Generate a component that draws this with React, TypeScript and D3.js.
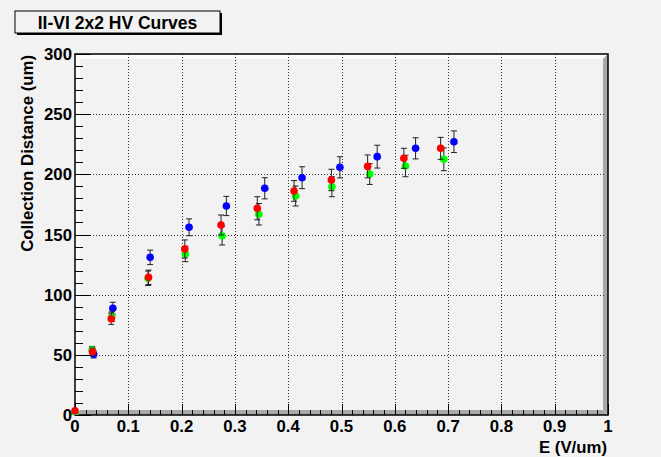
import React from "react";
import * as d3 from "d3";

const blueX = [0, 0.035, 0.071, 0.141, 0.214, 0.284, 0.356, 0.426, 0.497, 0.567, 0.639, 0.711];
const blueY = [0, 50.4, 88.7, 131, 156, 173.7, 188.4, 197.2, 205.8, 214.7, 221.6, 227.1];
const blueErr = [0, 3, 5, 6, 7, 8, 8.8, 9.1, 8.8, 9.5, 8.8, 9];

const greenX = [0, 0.032, 0.069, 0.137, 0.207, 0.276, 0.345, 0.414, 0.482, 0.553, 0.62, 0.692];
const greenY = [0, 54, 81.7, 113.6, 133.8, 149, 166.8, 182, 189.7, 200.2, 206.9, 212.5];
const greenErr = [0, 3, 4, 6, 6.4, 7.7, 8.9, 8.3, 8.3, 8.6, 8.9, 9.5];

const redX = [0, 0.033, 0.068, 0.138, 0.206, 0.274, 0.342, 0.411, 0.481, 0.549, 0.617, 0.686];
const redY = [3.5, 52.6, 80, 114.4, 138, 157.9, 171.8, 186.2, 195.3, 206.6, 213.3, 221.6];
const redErr = [0, 3, 4.7, 6, 7.5, 8.3, 9.6, 8.6, 8.9, 9.5, 8.3, 9.1];

const xTicks = [0, 0.1, 0.2, 0.3, 0.4, 0.5, 0.6, 0.7, 0.8, 0.9, 1];
const xTickLabels = ["0", "0.1", "0.2", "0.3", "0.4", "0.5", "0.6", "0.7", "0.8", "0.9", "1"];
const yTicks = [0, 50, 100, 150, 200, 250, 300];
const yTickLabels = ["0", "50", "100", "150", "200", "250", "300"];

const title = "II-VI 2x2 HV Curves";
const xTitle = "E (V/um)";
const yTitle = "Collection Distance (um)";

const series = [
  { xs: blueX, ys: blueY, es: blueErr, color: "#0000ff" },
  { xs: greenX, ys: greenY, es: greenErr, color: "#00ff00" },
  { xs: redX, ys: redY, es: redErr, color: "#ff0000" },
];

const W = 661;
const H = 457;
const L = 75;
const R = 608;
const T = 54;
const B = 415;
const BEV = 5;
const FONT = "'Liberation Sans', Arial, Helvetica, sans-serif";

export default function App() {
  const x = d3.scaleLinear().domain([0, 1]).range([L, R]);
  const y = d3.scaleLinear().domain([0, 300]).range([B, T]);
  const xMinor = d3.range(0, 1.0001, 0.02);
  const yMinor = d3.range(0, 300.01, 10);

  return (
    <svg
      width={W}
      height={H}
      style={{ position: "absolute", left: 0, top: 0, background: "#f2f2f2" }}
    >
      <defs>
        <clipPath id="frameClip">
          <rect x={0} y={0} width={W} height={B} />
        </clipPath>
      </defs>
      <rect x={0} y={0} width={W} height={H} fill="#f2f2f2" />

      {/* title box */}
      <rect x={17} y={13} width={205} height={22} fill="#000" />
      <rect x={15} y={11} width={205} height={22} fill="#f2f2f2" stroke="#000" strokeWidth={1} />
      <text x={117.5} y={29.3} textAnchor="middle" fontFamily={FONT} fontWeight="bold" fontSize={17.5} fill="#000">
        {title}
      </text>

      {/* frame */}
      <rect x={L} y={T} width={R - L} height={B - T} fill="#f2f2f2" />
      <polygon points={`${L},${T} ${R},${T} ${R - BEV},${T + BEV} ${L + BEV},${T + BEV}`} fill="#fcfcfc" />
      <polygon points={`${L},${T} ${L + BEV},${T + BEV} ${L + BEV},${B - BEV} ${L},${B}`} fill="#fcfcfc" />
      <polygon points={`${R},${T} ${R},${B} ${R - BEV},${B - BEV} ${R - BEV},${T + BEV}`} fill="#a8a8a8" />
      <polygon points={`${L},${B} ${R},${B} ${R - BEV},${B - BEV} ${L + BEV},${B - BEV}`} fill="#a8a8a8" />

      {/* grid */}
      <g stroke="#333" strokeWidth={1} strokeDasharray="1,2" shapeRendering="crispEdges">
        {xTicks.slice(1, -1).map((t) => (
          <line key={"gx" + t} x1={Math.round(x(t)) + 0.5} x2={Math.round(x(t)) + 0.5} y1={T} y2={B} />
        ))}
        {yTicks.slice(1, -1).map((t) => (
          <line key={"gy" + t} x1={L} x2={R - 2} y1={Math.round(y(t)) + 0.5} y2={Math.round(y(t)) + 0.5} />
        ))}
      </g>

      {/* ticks */}
      <g stroke="#000" strokeWidth={1} shapeRendering="crispEdges">
        {xMinor.map((t, i) => {
          const major = i % 5 === 0;
          const px = Math.round(x(t)) + 0.5;
          return <line key={"tx" + i} x1={px} x2={px} y1={B} y2={B - (major ? 11 : 5.5)} />;
        })}
        {yMinor.map((t, i) => {
          const major = i % 5 === 0;
          const py = Math.round(y(t)) + 0.5;
          return <line key={"ty" + i} x1={L} x2={L + (major ? 16 : 8)} y1={py} y2={py} />;
        })}
      </g>

      {/* frame outline */}
      <rect x={L} y={T} width={R - L} height={B - T} fill="none" stroke="#000" strokeWidth={1.5} />

      {/* data */}
      <g clipPath="url(#frameClip)">
        {series.map((s, si) => (
          <g key={"s" + si}>
            <g stroke="#222" strokeWidth={1}>
              {s.xs.map((xv, i) =>
                s.es[i] > 0 ? (
                  <g key={"e" + i}>
                    <line x1={x(xv)} x2={x(xv)} y1={y(s.ys[i] - s.es[i])} y2={y(s.ys[i] + s.es[i])} />
                    <line x1={x(xv) - 3} x2={x(xv) + 3} y1={y(s.ys[i] - s.es[i])} y2={y(s.ys[i] - s.es[i])} />
                    <line x1={x(xv) - 3} x2={x(xv) + 3} y1={y(s.ys[i] + s.es[i])} y2={y(s.ys[i] + s.es[i])} />
                  </g>
                ) : null
              )}
            </g>
            {s.xs.map((xv, i) => (
              <circle key={"m" + i} cx={x(xv)} cy={y(s.ys[i])} r={3.8} fill={s.color} />
            ))}
          </g>
        ))}
      </g>

      {/* tick labels */}
      <g fontFamily={FONT} fontWeight="bold" fontSize={16.8} fill="#000">
        {xTicks.map((t, i) => (
          <text key={"xl" + i} x={x(t)} y={B + 17} textAnchor="middle">
            {xTickLabels[i]}
          </text>
        ))}
        {yTicks.map((t, i) => (
          <text key={"yl" + i} x={72} y={y(t) + 6} textAnchor="end">
            {yTickLabels[i]}
          </text>
        ))}
        <text x={607} y={453} textAnchor="end">
          {xTitle}
        </text>
        <text transform={`translate(32.5, 55) rotate(-90)`} textAnchor="end">
          {yTitle}
        </text>
      </g>
    </svg>
  );
}
